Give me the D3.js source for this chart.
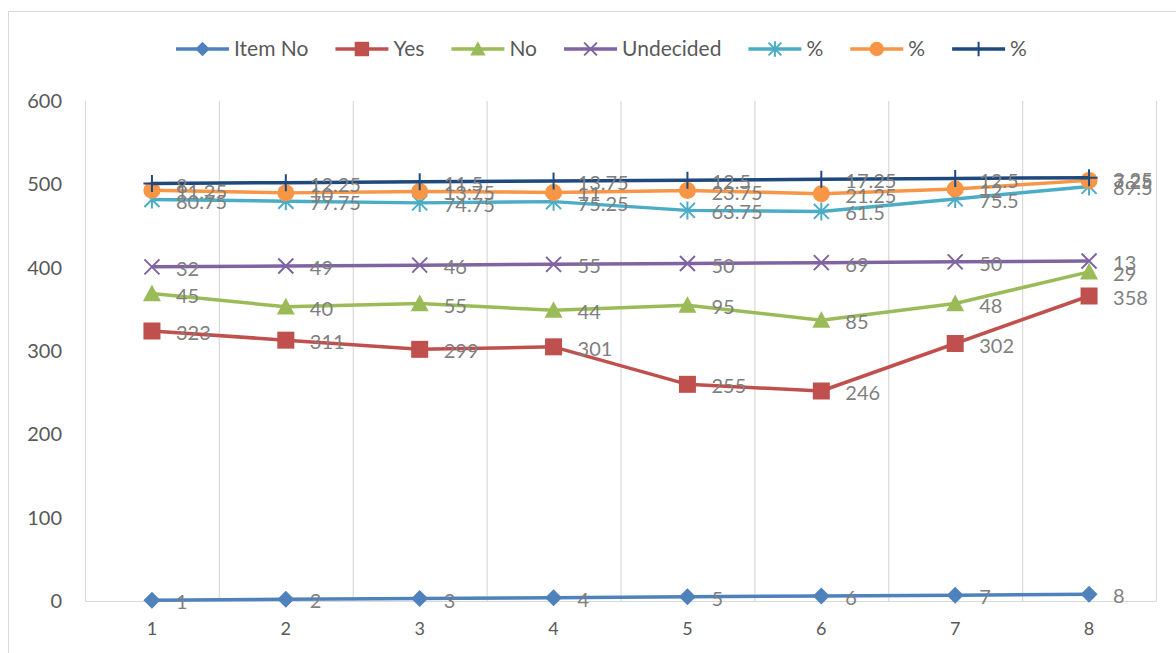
<!DOCTYPE html>
<html>
<head>
<meta charset="utf-8">
<script src="https://cdn.jsdelivr.net/npm/d3@7"></script>
<style>
  body { margin: 0; background: #fff; }
  svg { display: block; font-family: Lato, "Open Sans", sans-serif; }
</style>
</head>
<body>
<svg id="chart" width="1176" height="653"></svg>
<script>
// categories and series values (stacked line chart)
const categories = [1, 2, 3, 4, 5, 6, 7, 8];
const itemNo    = [1, 2, 3, 4, 5, 6, 7, 8];
const yes       = [323, 311, 299, 301, 255, 246, 302, 358];
const no        = [45, 40, 55, 44, 95, 85, 48, 29];
const undecided = [32, 49, 46, 55, 50, 69, 50, 13];
const pctA      = [80.75, 77.75, 74.75, 75.25, 63.75, 61.5, 75.5, 89.5];
const pctB      = [11.25, 10, 13.75, 11, 23.75, 21.25, 12, 7.25];
const pctC      = [8, 12.25, 11.5, 13.75, 12.5, 17.25, 12.5, 3.25];
const yTicks    = [0, 100, 200, 300, 400, 500, 600];

const series = [
  { name: "Item No",   values: itemNo,    color: "#4f81bd", marker: "diamond" },
  { name: "Yes",       values: yes,       color: "#c0504d", marker: "square" },
  { name: "No",        values: no,        color: "#9bbb59", marker: "triangle" },
  { name: "Undecided", values: undecided, color: "#8064a2", marker: "x" },
  { name: "%",         values: pctA,      color: "#4bacc6", marker: "star" },
  { name: "%",         values: pctB,      color: "#f79646", marker: "circle" },
  { name: "%",         values: pctC,      color: "#1f497d", marker: "plus" }
];

const svg = d3.select("#chart");

// chart border (runs past the right/bottom edge like the reference)
svg.append("rect")
  .attr("x", 8.5).attr("y", 11.5)
  .attr("width", 1200).attr("height", 700)
  .attr("fill", "none").attr("stroke", "#d9d9d9");

const plotLeft = 85, plotRight = 1156, plotTop = 101, plotBottom = 601;

const x = d3.scaleBand().domain(categories).range([plotLeft, plotRight]);
const y = d3.scaleLinear().domain([0, 600]).range([plotBottom, plotTop]);
const cx = d => x(d) + x.bandwidth() / 2;

// stacked values
const rows = categories.map((c, i) => {
  const r = { cat: c };
  series.forEach((s, k) => r["s" + k] = s.values[i]);
  return r;
});
const stacked = d3.stack().keys(series.map((s, k) => "s" + k))(rows);

// vertical gridlines at category boundaries
const bounds = categories.map(c => x(c)).concat([plotRight]);
svg.append("g").selectAll("line")
  .data(bounds).enter().append("line")
  .attr("x1", d => d + 0.5).attr("x2", d => d + 0.5)
  .attr("y1", plotTop).attr("y2", plotBottom)
  .attr("stroke", "#d9d9d9").attr("stroke-width", 1.2);

// bottom axis line
svg.append("line")
  .attr("x1", plotLeft).attr("x2", plotRight + 1)
  .attr("y1", plotBottom + 0.5).attr("y2", plotBottom + 0.5)
  .attr("stroke", "#d9d9d9").attr("stroke-width", 1.2);

// y tick labels
svg.append("g").selectAll("text")
  .data(yTicks).enter().append("text")
  .attr("x", 62).attr("y", d => y(d))
  .attr("dy", "0.35em")
  .attr("text-anchor", "end")
  .attr("font-size", 20).attr("fill", "#595959")
  .text(d => d);

// x tick labels
svg.append("g").selectAll("text")
  .data(categories).enter().append("text")
  .attr("x", d => cx(d)).attr("y", 629)
  .attr("dy", "0.35em")
  .attr("text-anchor", "middle")
  .attr("font-size", 18).attr("fill", "#595959")
  .text(d => d);

function drawMarker(g, type, color, px, py, scale) {
  const s = scale || 1;
  if (type === "diamond") {
    const r = 8.5 * s;
    g.append("path").attr("d", `M${px},${py - r}L${px + r},${py}L${px},${py + r}L${px - r},${py}Z`)
      .attr("fill", color);
  } else if (type === "square") {
    const r = 8.5 * s;
    g.append("rect").attr("x", px - r).attr("y", py - r).attr("width", 2 * r).attr("height", 2 * r)
      .attr("fill", color);
  } else if (type === "triangle") {
    const r = 9 * s;
    g.append("path").attr("d", `M${px},${py - r}L${px + r},${py + r * 0.85}L${px - r},${py + r * 0.85}Z`)
      .attr("fill", color);
  } else if (type === "circle") {
    g.append("circle").attr("cx", px).attr("cy", py).attr("r", 8.5 * s).attr("fill", color);
  } else if (type === "x") {
    const r = 7.5 * s;
    g.append("path").attr("d", `M${px - r},${py - r}L${px + r},${py + r}M${px - r},${py + r}L${px + r},${py - r}`)
      .attr("stroke", color).attr("stroke-width", 2).attr("fill", "none");
  } else if (type === "plus") {
    const r = 8.5 * s;
    g.append("path").attr("d", `M${px - r},${py}L${px + r},${py}M${px},${py - r}L${px},${py + r}`)
      .attr("stroke", color).attr("stroke-width", 2).attr("fill", "none");
  } else if (type === "star") {
    const r = 7.5 * s;
    g.append("path").attr("d", `M${px - r},${py - r}L${px + r},${py + r}M${px - r},${py + r}L${px + r},${py - r}M${px},${py - r * 1.2}L${px},${py + r * 1.2}`)
      .attr("stroke", color).attr("stroke-width", 2).attr("fill", "none");
  }
}

const line = d3.line().x(d => cx(d.data.cat)).y(d => y(d[1]));

// lines + markers
stacked.forEach((layer, k) => {
  const s = series[k];
  const g = svg.append("g");
  g.append("path").datum(layer)
    .attr("d", line)
    .attr("fill", "none")
    .attr("stroke", s.color)
    .attr("stroke-width", 3.5)
    .attr("stroke-linejoin", "round");
  layer.forEach(d => drawMarker(g, s.marker, s.color, cx(d.data.cat), y(d[1])));
});

// data labels
stacked.forEach((layer, k) => {
  const s = series[k];
  svg.append("g").selectAll("text")
    .data(layer).enter().append("text")
    .attr("x", d => cx(d.data.cat) + 24)
    .attr("y", d => y(d[1]) + 2)
    .attr("dy", "0.35em")
    .attr("font-size", 20).attr("fill", "#7f7f7f")
    .text((d, i) => s.values[i]);
});

// legend
const legend = svg.append("g");
let lx = 176;
const ly = 49;
series.forEach(s => {
  const g = legend.append("g");
  g.append("line").attr("x1", lx).attr("x2", lx + 53).attr("y1", ly).attr("y2", ly)
    .attr("stroke", s.color).attr("stroke-width", 3.5);
  drawMarker(g, s.marker, s.color, lx + 26.5, ly, 0.85);
  const t = g.append("text").attr("x", lx + 58).attr("y", ly).attr("dy", "0.35em")
    .attr("font-size", 21).attr("fill", "#595959").text(s.name);
  lx += 58 + t.node().getComputedTextLength() + 27;
});
</script>
</body>
</html>
